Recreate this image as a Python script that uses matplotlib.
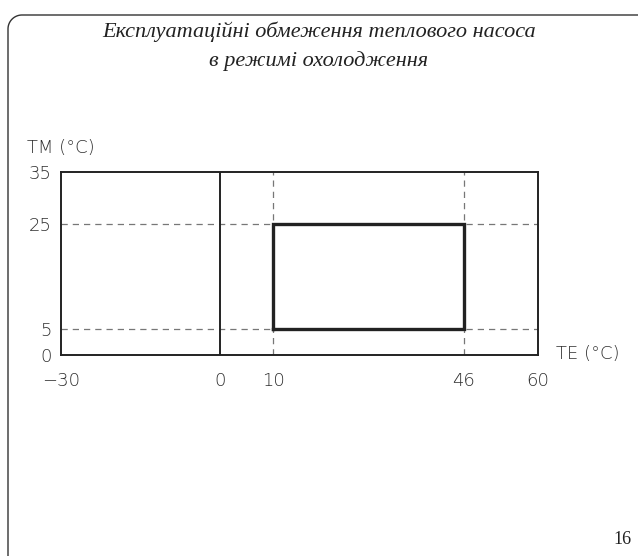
import numpy as np
import matplotlib.pyplot as plt
from matplotlib.lines import Line2D

# Operating limits of the heat pump in cooling mode
te_ticks = [-30, 0, 10, 46, 60]
tm_ticks = [0, 5, 25, 35]
te_limits = [10, 46]
tm_limits = [5, 25]
env_te = [10, 46, 46, 10, 10]
env_tm = [5, 5, 25, 25, 5]

title = "Експлуатаційні обмеження теплового насоса\nв режимі охолодження"

W, H = 638, 556
fig = plt.figure(figsize=(W / 100, H / 100), dpi=100)

# Page frame: only the top-left rounded corner is visible
left, top, r = 8, 15, 14
ang = np.linspace(np.pi, np.pi / 2, 30)
fx = np.concatenate([[left], left + r + r * np.cos(ang), [W + 5]])
fy = np.concatenate([[H + 5], top + r - r * np.sin(ang), [top]])
fig.add_artist(Line2D(fx / W, 1 - fy / H, transform=fig.transFigure,
                      color="#333333", linewidth=1.0))

ax = fig.add_axes([61 / W, 1 - 355 / H, 477 / W, 183 / H])
ax.set_xlim(-30, 60)
ax.set_ylim(0, 35)

# Dashed guide lines
for x in te_limits:
    ax.axvline(x, color="#777777", linestyle=(0, (5, 4)), linewidth=0.9)
for y in tm_limits:
    ax.axhline(y, color="#777777", linestyle=(0, (5, 4)), linewidth=0.9)

# Zero line
ax.axvline(0, color="#222222", linewidth=1.4)

# Operating envelope
ax.plot(env_te, env_tm, color="#222222", linewidth=2.4, solid_joinstyle="miter")

for s in ax.spines.values():
    s.set_linewidth(1.4)
    s.set_color("#222222")

tick_font = dict(family="DejaVu Sans", fontsize=13, color="#2e2e2e", fontweight="light")
ax.set_xticks(te_ticks)
ax.set_xticklabels([f"\u2212{abs(v)}" if v < 0 else str(v) for v in te_ticks], **tick_font)
ax.set_yticks(tm_ticks)
ax.set_yticklabels([str(v) for v in tm_ticks], **tick_font)
ax.tick_params(axis="x", length=0, pad=12)
ax.tick_params(axis="y", length=0, pad=7)

fig.text(27 / W, 1 - 148 / H, "TM (°C)", ha="left", va="center", **tick_font)
fig.text(556 / W, 1 - 354 / H, "TE (°C)", ha="left", va="center", **tick_font)

fig.text(0.5, 1 - 46 / H, title, ha="center", va="center",
         family="Liberation Serif", style="italic", fontsize=16,
         color="#222222", linespacing=1.6)

fig.text(622 / W, 1 - 540 / H, "16", ha="center", va="center",
         family="Liberation Serif", fontsize=13, color="#222222")

fig.savefig("out.png", dpi=100)
